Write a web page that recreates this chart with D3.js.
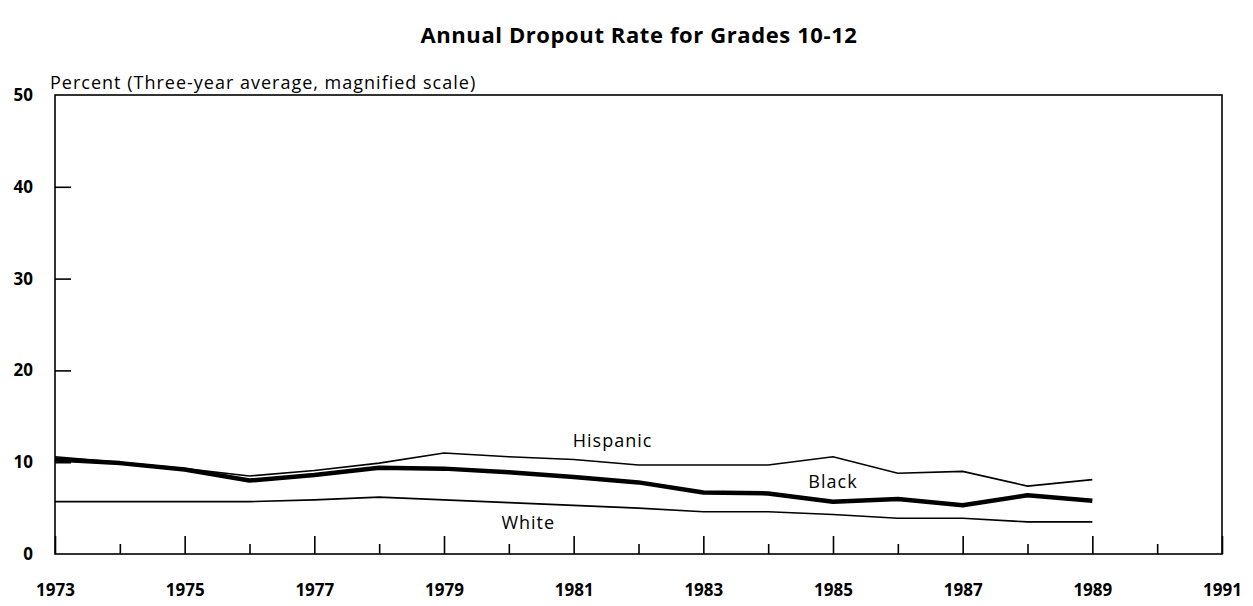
<!doctype html>
<html>
<head>
<meta charset="utf-8">
<script src="https://cdn.jsdelivr.net/npm/d3@7"></script>
<style>
  body { margin: 0; background: #fff; }
  svg text { font-family: "Open Sans", "Noto Sans", sans-serif; fill: #000; }
</style>
</head>
<body>
<svg id="chart" width="1253" height="606"></svg>
<script>
const years = d3.range(1973, 1990);
const hispanic = [10.6, 10.0, 9.3, 8.5, 9.1, 9.9, 11.0, 10.6, 10.3, 9.7, 9.7, 9.7, 10.6, 8.8, 9.0, 7.4, 8.1];
const black    = [10.3, 9.9, 9.2, 8.0, 8.6, 9.4, 9.3, 8.9, 8.4, 7.8, 6.7, 6.6, 5.7, 6.0, 5.3, 6.4, 5.8];
const white    = [5.7, 5.7, 5.7, 5.7, 5.9, 6.2, 5.9, 5.6, 5.3, 5.0, 4.6, 4.6, 4.3, 3.9, 3.9, 3.5, 3.5];
const yTicks = [0, 10, 20, 30, 40, 50];
const xTicks = d3.range(1973, 1992);

const svg = d3.select('#chart');
const plot = { left: 55, right: 1222, top: 95, bottom: 554 };

const x = d3.scaleLinear().domain([1973, 1991]).range([plot.left, plot.right]);
const y = d3.scaleLinear().domain([0, 50]).range([plot.bottom, plot.top]);

svg.append('text')
  .attr('x', 639).attr('y', 43)
  .attr('text-anchor', 'middle')
  .style('font-size', '22px').style('font-weight', 'bold')
  .style('letter-spacing', '0.6px')
  .text('Annual Dropout Rate for Grades 10-12');

svg.append('text')
  .attr('x', 50).attr('y', 89)
  .style('font-size', '18px').style('letter-spacing', '1px')
  .text('Percent (Three-year average, magnified scale)');

// frame
svg.append('rect')
  .attr('x', plot.left).attr('y', plot.top)
  .attr('width', plot.right - plot.left).attr('height', plot.bottom - plot.top)
  .attr('fill', 'none').attr('stroke', '#000').attr('stroke-width', 1.6);

// x axis, ticks pointing up
const xAxis = svg.append('g')
  .attr('transform', `translate(0,${plot.bottom})`)
  .call(d3.axisBottom(x)
    .tickValues(xTicks)
    .tickSizeInner(-18).tickSizeOuter(0)
    .tickPadding(30)
    .tickFormat(d => d % 2 ? String(d) : ''));
xAxis.select('.domain').remove();
xAxis.selectAll('.tick line')
  .attr('stroke-width', 1.6)
  .attr('y2', d => d % 2 ? -18 : -10);
xAxis.selectAll('.tick text')
  .style('font-size', '17px').style('font-weight', 'bold');

// y axis, ticks pointing right
const yAxis = svg.append('g')
  .attr('transform', `translate(${plot.left},0)`)
  .call(d3.axisLeft(y)
    .tickValues(yTicks)
    .tickSizeInner(-16).tickSizeOuter(0)
    .tickPadding(22));
yAxis.select('.domain').remove();
yAxis.selectAll('.tick line').attr('stroke-width', 1.6)
  .attr('display', d => (d === 0 || d === 50) ? 'none' : null);
yAxis.selectAll('.tick text')
  .style('font-size', '17px').style('font-weight', 'bold');

const line = vals => d3.line()
  .x((d, i) => x(years[i]))
  .y(d => y(d))(vals);

svg.append('path').attr('d', line(white))
  .attr('fill', 'none').attr('stroke', '#000').attr('stroke-width', 1.6);
svg.append('path').attr('d', line(hispanic))
  .attr('fill', 'none').attr('stroke', '#000').attr('stroke-width', 1.6);
svg.append('path').attr('d', line(black))
  .attr('fill', 'none').attr('stroke', '#000').attr('stroke-width', 4.5)
  .attr('stroke-linejoin', 'round');

const labels = [
  { text: 'Hispanic', year: 1981.6, value: 11.7 },
  { text: 'Black', year: 1985.0, value: 7.2 },
  { text: 'White', year: 1980.3, value: 2.7 }
];
svg.selectAll('.series-label').data(labels).join('text')
  .attr('class', 'series-label')
  .attr('x', d => x(d.year)).attr('y', d => y(d.value))
  .attr('text-anchor', 'middle')
  .style('font-size', '18px').style('letter-spacing', '1px')
  .text(d => d.text);
</script>
</body>
</html>
